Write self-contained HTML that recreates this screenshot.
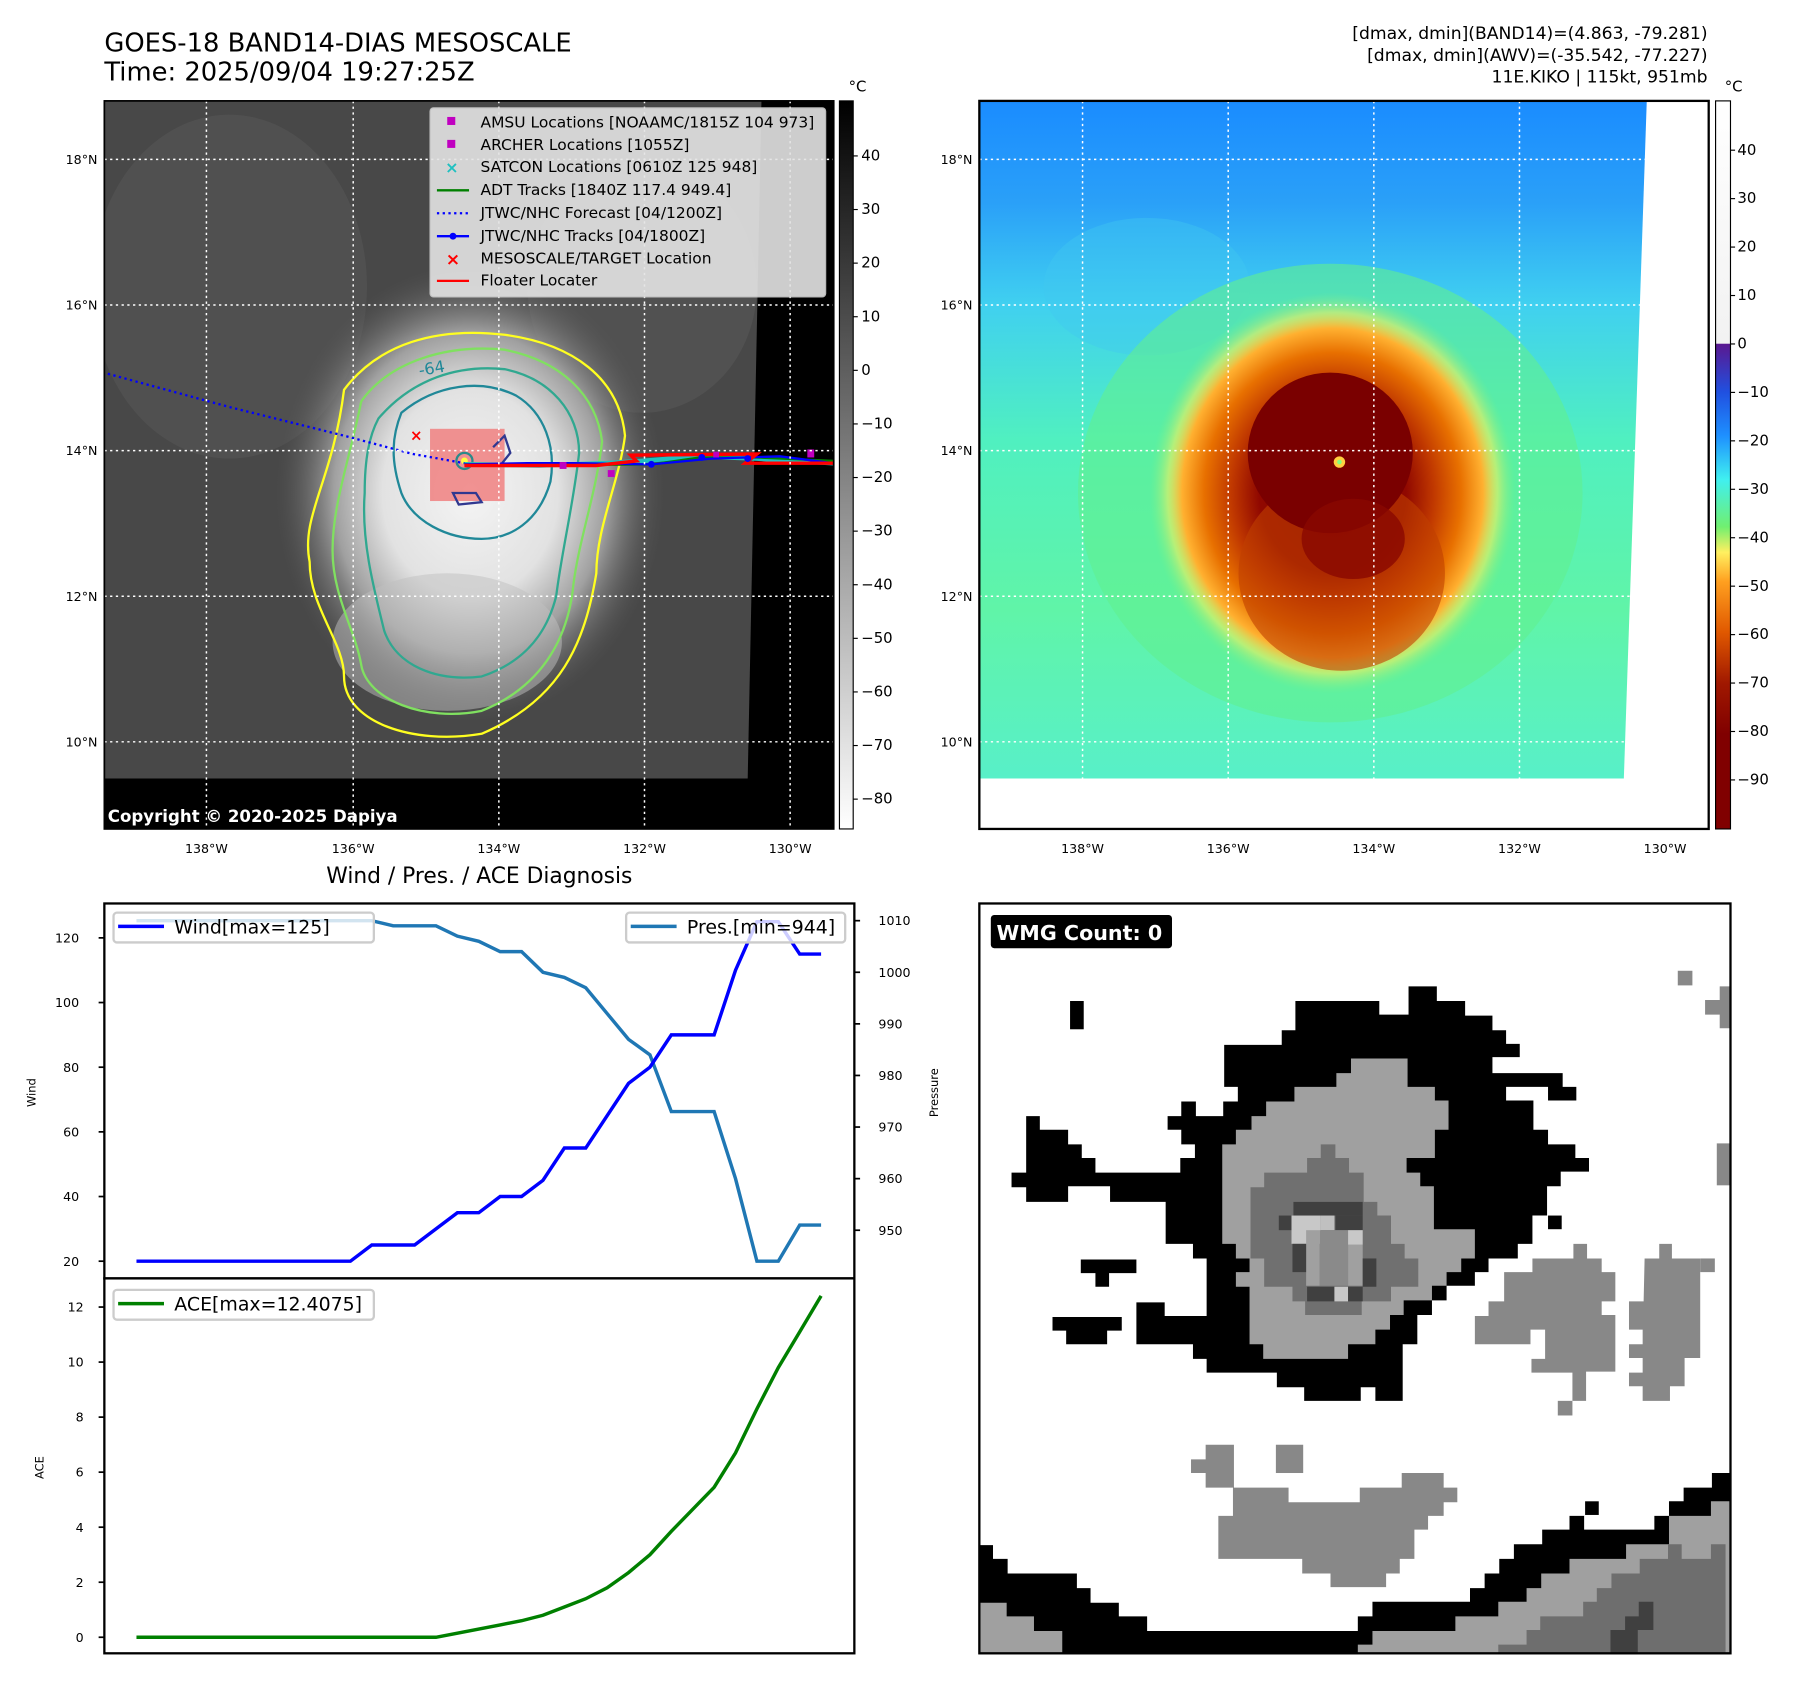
<!DOCTYPE html>
<html><head><meta charset="utf-8"><style>
html,body{margin:0;padding:0;background:#fff;}
svg{display:block;}
text{font-family:"DejaVu Sans","Liberation Sans",sans-serif;}
</style></head><body>
<svg id="fig" width="1797" height="1690" viewBox="0 0 1567 1474" preserveAspectRatio="none" xmlns="http://www.w3.org/2000/svg">
<defs>
<radialGradient id="stormL" cx="0.5" cy="0.5" r="0.5">
<stop offset="0" stop-color="#f4f4f4"/><stop offset="0.45" stop-color="#e2e2e2"/><stop offset="0.7" stop-color="#a0a0a0"/><stop offset="1" stop-color="#555" stop-opacity="0"/>
</radialGradient>
<linearGradient id="bgR" x1="0" y1="0" x2="0" y2="1">
<stop offset="0" stop-color="#1a8cff"/><stop offset="0.15" stop-color="#2aa0f8"/><stop offset="0.3" stop-color="#40d0f0"/><stop offset="0.5" stop-color="#50f0c0"/><stop offset="0.75" stop-color="#60f4a8"/><stop offset="1" stop-color="#58f0c8"/>
</linearGradient>
<radialGradient id="stormR" cx="0.5" cy="0.5" r="0.5">
<stop offset="0" stop-color="#800000"/><stop offset="0.4" stop-color="#900800"/><stop offset="0.55" stop-color="#c03800"/><stop offset="0.7" stop-color="#e87000"/><stop offset="0.82" stop-color="#ffb030"/><stop offset="0.9" stop-color="#f0f060" stop-opacity="0.6"/><stop offset="1" stop-color="#80f080" stop-opacity="0"/>
</radialGradient>
<linearGradient id="cbL" x1="0" y1="0" x2="0" y2="1"><stop offset="0" stop-color="#000"/><stop offset="1" stop-color="#fff"/></linearGradient>
<linearGradient id="cbR" x1="0" y1="0" x2="0" y2="1">
<stop offset="0" stop-color="#ffffff"/><stop offset="0.333" stop-color="#f2f2f2"/><stop offset="0.334" stop-color="#5a1890"/>
<stop offset="0.4" stop-color="#2050e0"/><stop offset="0.46" stop-color="#1e90ff"/><stop offset="0.52" stop-color="#40f0f0"/><stop offset="0.585" stop-color="#70f070"/><stop offset="0.62" stop-color="#fff060"/><stop offset="0.66" stop-color="#ffa020"/><stop offset="0.73" stop-color="#e05800"/><stop offset="0.8" stop-color="#a01800"/><stop offset="0.87" stop-color="#800000"/><stop offset="1" stop-color="#800000"/>
</linearGradient>
<clipPath id="clipL"><rect x="91" y="88" width="636" height="635"/></clipPath>
<clipPath id="clipR"><rect x="854" y="88" width="636" height="635"/></clipPath>
</defs>

<text x="91" y="45" font-size="22.5">GOES-18 BAND14-DIAS MESOSCALE</text>
<text x="91" y="70" font-size="22.5">Time: 2025/09/04 19:27:25Z</text>
<g font-size="15" text-anchor="end">
<text x="1489" y="34">[dmax, dmin](BAND14)=(4.863, -79.281)</text>
<text x="1489" y="53">[dmax, dmin](AWV)=(-35.542, -77.227)</text>
<text x="1489" y="72">11E.KIKO | 115kt, 951mb</text>
</g>

<g clip-path="url(#clipL)">
<rect x="91" y="88" width="636" height="635" fill="#000"/>
<polygon points="91,88 664,88 652,679 91,679" fill="#484848"/>
<ellipse cx="200" cy="250" rx="120" ry="150" fill="#565656" opacity="0.6"/>
<ellipse cx="560" cy="250" rx="100" ry="110" fill="#585858" opacity="0.6"/>
<ellipse cx="410" cy="430" rx="170" ry="200" fill="url(#stormL)"/>
<ellipse cx="390" cy="560" rx="100" ry="60" fill="#c0c0c0" opacity="0.5"/>
<path d="M300,340 C330,300 380,285 440,292 C500,300 540,330 545,380 C540,420 520,460 520,500 C510,560 490,610 420,640 C360,650 300,630 300,590 C300,560 270,530 270,490 C262,450 290,420 300,340Z" fill="none" stroke="#ffff20" stroke-width="2"/>
<path d="M315,350 C340,315 390,300 440,305 C490,315 520,345 525,385 C520,430 505,470 500,510 C495,560 470,600 420,620 C370,630 320,610 315,580 C310,550 290,520 290,480 C290,440 305,400 315,350Z" fill="none" stroke="#80e060" stroke-width="2"/>
<path d="M330,365 C360,330 400,318 440,322 C480,330 505,360 505,395 C500,440 490,480 485,520 C475,560 450,580 420,590 C380,595 345,580 335,550 C325,510 315,470 318,430 C318,400 322,380 330,365Z" fill="none" stroke="#30a890" stroke-width="2"/>
<path d="M350,360 C380,335 420,330 450,345 C475,360 485,390 480,420 C470,455 445,470 420,470 C390,470 360,455 350,430 C340,400 342,380 350,360Z" fill="none" stroke="#208898" stroke-width="2"/>
<text x="366" y="328" font-size="14" fill="#208898" transform="rotate(-10 366 328)">-64</text>
<rect x="375" y="374" width="65" height="63" fill="#f08080" opacity="0.85"/>
<path d="M430,390 l10,-10 l5,15 l-8,10 M395,430 l20,0 l5,8 l-20,2z" fill="none" stroke="#303890" stroke-width="2"/>
<circle cx="405" cy="402" r="7" fill="none" stroke="#2a8a8a" stroke-width="2"/>
<circle cx="405" cy="402" r="3" fill="#ffff40"/>
<polyline points="94,326 200,355 300,380 360,396 405,404" fill="none" stroke="#0000ff" stroke-width="2" stroke-dasharray="2,3"/>
<polyline points="405,405 470,406 530,404 560,402 610,398 660,400 727,404" fill="none" stroke="#20c0c0" stroke-width="4"/>
<polyline points="405,405 470,406 568,405 610,399 660,399 727,402" fill="none" stroke="#008000" stroke-width="2"/>
<polyline points="405,405 460,404 500,404 568,405 620,400 680,398 727,404" fill="none" stroke="#0000ff" stroke-width="2"/>
<polyline points="405,406 520,406 555,402 550,397 660,396 650,404 727,404" fill="none" stroke="#ff0000" stroke-width="3"/>
<rect x="488" y="403" width="6" height="6" fill="#c000c0"/><rect x="530" y="410" width="6" height="6" fill="#c000c0"/><rect x="704" y="392" width="6" height="7" fill="#c000c0"/><rect x="622" y="394" width="5" height="5" fill="#c000c0"/>
<circle cx="568" cy="405" r="3" fill="#0000ff"/><circle cx="612" cy="399" r="3" fill="#0000ff"/><circle cx="652" cy="400" r="3" fill="#0000ff"/>
<text x="363" y="384" font-size="13" fill="#ff0000" text-anchor="middle" font-weight="bold">×</text>
<rect x="91" y="679" width="636" height="44" fill="#000"/>
<g stroke="#fff" stroke-width="1.3" stroke-dasharray="2,3">
<line x1="91" y1="139" x2="727" y2="139"/><line x1="91" y1="266" x2="727" y2="266"/><line x1="91" y1="393" x2="727" y2="393"/><line x1="91" y1="520" x2="727" y2="520"/><line x1="91" y1="647" x2="727" y2="647"/>
<line x1="180" y1="88" x2="180" y2="723"/><line x1="308" y1="88" x2="308" y2="723"/><line x1="435" y1="88" x2="435" y2="723"/><line x1="562" y1="88" x2="562" y2="723"/><line x1="689" y1="88" x2="689" y2="723"/>
</g>
<text x="94" y="717" font-size="14.5" font-weight="bold" fill="#fff">Copyright © 2020-2025 Dapiya</text>
</g>
<rect x="91" y="88" width="636" height="635" fill="none" stroke="#000" stroke-width="1.5"/>

<g>
<rect x="375" y="94" width="345" height="165" rx="3" fill="#e4e4e4" opacity="0.9" stroke="#ccc"/>
<g font-size="13.5" fill="#000">
<rect x="390" y="102" width="7" height="7" fill="#c000c0"/><text x="419" y="111">AMSU Locations [NOAAMC/1815Z 104 973]</text>
<rect x="390" y="122" width="7" height="7" fill="#c000c0"/><text x="419" y="131">ARCHER Locations [1055Z]</text>
<text x="394" y="151" fill="#20c0c0" font-size="14" font-weight="bold" text-anchor="middle">×</text><text x="419" y="150">SATCON Locations [0610Z 125 948]</text>
<line x1="381" y1="166" x2="409" y2="166" stroke="#008000" stroke-width="2"/><text x="419" y="170">ADT Tracks [1840Z 117.4 949.4]</text>
<line x1="381" y1="186" x2="409" y2="186" stroke="#0000ff" stroke-width="2" stroke-dasharray="2,3"/><text x="419" y="190">JTWC/NHC Forecast [04/1200Z]</text>
<line x1="381" y1="206" x2="409" y2="206" stroke="#0000ff" stroke-width="2"/><circle cx="395" cy="206" r="3" fill="#0000ff"/><text x="419" y="210">JTWC/NHC Tracks [04/1800Z]</text>
<text x="395" y="231" fill="#ff0000" font-size="15" font-weight="bold" text-anchor="middle">×</text><text x="419" y="230">MESOSCALE/TARGET Location</text>
<line x1="381" y1="245" x2="409" y2="245" stroke="#ff0000" stroke-width="2"/><text x="419" y="249">Floater Locater</text>
</g></g>

<g font-size="11" fill="#000" text-anchor="end">
<text x="85" y="143">18°N</text><text x="85" y="270">16°N</text><text x="85" y="397">14°N</text><text x="85" y="524">12°N</text><text x="85" y="651">10°N</text>
</g>
<g font-size="11" fill="#000" text-anchor="middle">
<text x="180" y="744">138°W</text><text x="308" y="744">136°W</text><text x="435" y="744">134°W</text><text x="562" y="744">132°W</text><text x="689" y="744">130°W</text>
</g>
<g>
<rect x="732" y="88" width="12" height="635" fill="url(#cbL)" stroke="#000" stroke-width="1"/>
<text x="740" y="80" font-size="13">°C</text>
<g font-size="13" id="cbLticks"></g>
</g>

<g clip-path="url(#clipR)">
<rect x="854" y="88" width="636" height="635" fill="#fff"/>
<polygon points="854,88 1436,88 1416,679 854,679" fill="url(#bgR)"/>
<ellipse cx="1000" cy="250" rx="90" ry="60" fill="#40c8f0" opacity="0.4"/>
<ellipse cx="1160" cy="430" rx="220" ry="200" fill="#60f090" opacity="0.6"/>
<ellipse cx="1162" cy="430" rx="160" ry="175" fill="url(#stormR)"/>
<ellipse cx="1170" cy="500" rx="90" ry="85" fill="#c04000" opacity="0.6"/>
<ellipse cx="1160" cy="395" rx="72" ry="70" fill="#7a0000"/>
<ellipse cx="1180" cy="470" rx="45" ry="35" fill="#8a0800" opacity="0.8"/>
<circle cx="1168" cy="403" r="5" fill="#ffd040"/><circle cx="1168" cy="403" r="2" fill="#80ff80"/>
<g stroke="#fff" stroke-width="1.3" stroke-dasharray="2,3">
<line x1="854" y1="139" x2="1490" y2="139"/><line x1="854" y1="266" x2="1490" y2="266"/><line x1="854" y1="393" x2="1490" y2="393"/><line x1="854" y1="520" x2="1490" y2="520"/><line x1="854" y1="647" x2="1490" y2="647"/>
<line x1="944" y1="88" x2="944" y2="723"/><line x1="1071" y1="88" x2="1071" y2="723"/><line x1="1198" y1="88" x2="1198" y2="723"/><line x1="1325" y1="88" x2="1325" y2="723"/><line x1="1452" y1="88" x2="1452" y2="723"/>
</g>
</g>
<rect x="854" y="88" width="636" height="635" fill="none" stroke="#000" stroke-width="2"/>
<g font-size="11" fill="#000" text-anchor="end">
<text x="848" y="143">18°N</text><text x="848" y="270">16°N</text><text x="848" y="397">14°N</text><text x="848" y="524">12°N</text><text x="848" y="651">10°N</text>
</g>
<g font-size="11" fill="#000" text-anchor="middle">
<text x="944" y="744">138°W</text><text x="1071" y="744">136°W</text><text x="1198" y="744">134°W</text><text x="1325" y="744">132°W</text><text x="1452" y="744">130°W</text>
</g>
<g>
<rect x="1496" y="88" width="13" height="635" fill="url(#cbR)" stroke="#000" stroke-width="1"/>
<text x="1504" y="80" font-size="13">°C</text>
<g font-size="13" id="cbRticks"></g>
</g>

<text x="418" y="770" font-size="19" text-anchor="middle">Wind / Pres. / ACE Diagnosis</text>
<g id="diag"></g>

<g>
<rect x="854" y="788" width="655" height="654" fill="#fff"/>
<g transform="translate(854,788) scale(0.4253)">
<polygon fill="#000" points="502,290 620,290 620,260 648,260 648,200 820,200 820,228 880,228 880,170 938,170 938,200 996,200 996,230 1052,230 1052,260 1080,260 1080,288 1108,288 1108,315 1052,315 1052,348 1196,348 1196,376 1224,376 1224,404 1166,404 1166,376 1080,376 1080,404 1136,404 1136,464 1166,464 1166,494 1222,494 1222,522 1250,522 1250,550 1192,550 1192,580 1164,580 1164,640 1134,640 1134,698 1104,698 1104,728 1044,728 1044,756 1016,756 1016,784 958,784 958,814 928,814 928,844 898,844 898,904 868,904 868,1020 812,1020 812,992 782,992 782,1020 666,1020 666,992 610,992 610,962 466,962 466,934 438,934 438,904 322,904 322,818 380,818 380,846 466,846 466,728 438,728 438,698 382,698 382,612 268,612 268,580 182,580 182,612 96,612 96,582 66,582 66,552 96,552 96,436 124,436 124,464 182,464 182,494 210,494 210,522 238,522 238,552 412,552 412,522 442,522 442,494 414,494 414,464 386,464 386,436 414,436 414,406 444,406 444,436 500,436 500,406 530,406 530,376 502,376"/>
<rect x="186" y="200" width="28" height="58" fill="#000"/>
<polygon fill="#000" points="208,730 322,730 322,758 266,758 266,786 238,786 238,758 208,758"/>
<polygon fill="#000" points="150,848 292,848 292,876 262,876 262,904 178,904 178,876 150,876"/>
<rect x="1166" y="640" width="28" height="28" fill="#000"/>
<polygon fill="#a0a0a0" points="762,318 878,318 878,376 934,376 934,404 962,404 962,464 934,464 934,522 876,522 876,552 904,552 904,580 932,580 932,668 1016,668 1016,728 988,728 988,756 958,756 958,784 928,784 928,814 870,814 870,844 842,844 842,874 812,874 812,904 756,904 756,934 582,934 582,904 554,904 554,786 526,786 526,756 554,756 554,728 526,728 526,698 498,698 498,494 526,494 526,464 558,464 558,436 588,436 588,406 646,406 646,376 732,376 732,348 762,348"/>
<polygon fill="#707070" points="700,494 730,494 730,522 758,522 758,552 788,552 788,612 816,612 816,640 844,640 844,698 872,698 872,728 900,728 900,786 844,786 844,816 784,816 784,844 668,844 668,816 642,816 642,786 584,786 584,728 556,728 556,582 584,582 584,552 672,552 672,522 700,522"/>
<rect x="644" y="612" width="142" height="28" fill="#404040"/><rect x="614" y="640" width="26" height="30" fill="#404040"/><rect x="730" y="640" width="56" height="30" fill="#404040"/>
<rect x="640" y="640" width="60" height="58" fill="#c8c8c8"/><rect x="700" y="640" width="28" height="30" fill="#c0c0c0"/>
<rect x="670" y="670" width="28" height="114" fill="#a0a0a0"/><rect x="698" y="670" width="58" height="114" fill="#8a8a8a"/>
<rect x="756" y="670" width="30" height="30" fill="#c8c8c8"/><rect x="756" y="700" width="30" height="84" fill="#a0a0a0"/>
<rect x="642" y="698" width="28" height="58" fill="#404040"/><rect x="786" y="728" width="28" height="58" fill="#404040"/>
<rect x="672" y="786" width="56" height="30" fill="#404040"/><rect x="728" y="786" width="28" height="30" fill="#c8c8c8"/><rect x="756" y="786" width="30" height="30" fill="#404040"/>
<polygon fill="#888" points="1076,756 1134,756 1134,728 1218,728 1218,698 1246,698 1246,728 1276,728 1276,756 1304,756 1304,816 1276,816 1276,844 1304,844 1304,960 1244,960 1244,1020 1216,1020 1216,962 1132,962 1132,934 1160,934 1160,874 1130,874 1130,904 1016,904 1016,846 1044,846 1044,816 1076,816"/>
<polygon fill="#888" points="1364,728 1394,728 1394,698 1420,698 1420,728 1478,728 1478,932 1446,932 1446,990 1416,990 1416,1020 1360,1020 1360,990 1332,990 1332,962 1360,962 1360,932 1332,932 1332,904 1360,904 1360,874 1332,874 1332,816 1362,816"/>
<rect x="1186" y="1020" width="30" height="30" fill="#888"/><rect x="1432" y="138" width="30" height="30" fill="#888"/><rect x="1478" y="728" width="30" height="28" fill="#888"/>
<polygon fill="#888" points="1518,170 1540,170 1540,256 1518,256 1518,228 1488,228 1488,198 1518,198"/><rect x="1512" y="492" width="28" height="86" fill="#888"/>
<polygon fill="#888" points="464,1110 522,1110 522,1198 634,1198 634,1228 780,1228 780,1198 866,1198 866,1168 952,1168 952,1198 980,1198 980,1228 952,1228 952,1256 920,1256 920,1284 892,1284 892,1344 862,1344 862,1374 834,1374 834,1402 720,1402 720,1374 662,1374 662,1344 490,1344 490,1256 520,1256 520,1198 464,1198 464,1168 434,1168 434,1140 464,1140"/>
<rect x="608" y="1110" width="56" height="58" fill="#888"/>
<polygon fill="#000" points="0,1316 28,1316 28,1344 58,1344 58,1374 200,1374 200,1404 228,1404 228,1434 286,1434 286,1462 344,1462 344,1492 776,1492 776,1462 806,1462 806,1432 1006,1432 1006,1404 1036,1404 1036,1374 1066,1374 1066,1344 1096,1344 1096,1314 1154,1314 1154,1284 1210,1284 1210,1256 1240,1256 1240,1284 1384,1284 1384,1256 1414,1256 1414,1226 1444,1226 1444,1198 1502,1198 1502,1168 1540,1168 1540,1540 0,1540"/>
<rect x="1242" y="1226" width="28" height="28" fill="#000"/>
<polygon fill="#a0a0a0" points="0,1434 56,1434 56,1462 112,1462 112,1492 170,1492 170,1540 0,1540"/>
<polygon fill="#a0a0a0" points="806,1492 976,1492 976,1462 1064,1462 1064,1432 1122,1432 1122,1404 1152,1404 1152,1374 1210,1374 1210,1344 1326,1344 1326,1314 1414,1314 1414,1256 1500,1256 1500,1226 1540,1226 1540,1540 776,1540 776,1520 806,1520"/>
<polygon fill="#6e6e6e" points="1064,1540 1064,1520 1122,1520 1122,1490 1150,1490 1150,1462 1238,1462 1238,1432 1266,1432 1266,1404 1296,1404 1296,1374 1354,1374 1354,1344 1412,1344 1412,1314 1440,1314 1440,1344 1500,1344 1500,1314 1530,1314 1530,1540"/>
<polygon fill="#404040" points="1294,1540 1294,1490 1324,1490 1324,1462 1352,1462 1352,1432 1382,1432 1382,1490 1350,1490 1350,1540"/>
</g>
<rect x="854" y="788" width="655" height="654" fill="none" stroke="#000" stroke-width="2"/>
<rect x="864" y="798" width="158" height="29" rx="3" fill="#000"/>
<text x="869" y="820" font-size="18" font-weight="bold" fill="#fff">WMG Count: 0</text>
</g>

<script>
const windValues = [20,20,20,20,20,20,20,20,20,20,20,25,25,25,30,35,35,40,40,45,55,55,65,75,80,90,90,90,110,125,125,115,115];
const presValues = [1010,1010,1010,1010,1010,1010,1010,1010,1010,1010,1010,1010,1009,1009,1009,1007,1006,1004,1004,1000,999,997,992,987,984,973,973,973,960,944,944,951,951];
const aceValues = [0,0,0,0,0,0,0,0,0,0,0,0,0,0,0,0.15,0.3,0.45,0.6,0.8,1.1,1.4,1.8,2.35,3.0,3.85,4.65,5.45,6.7,8.3,9.8,11.1,12.4075];
const windTicks = [20,40,60,80,100,120];
const presTicks = [950,960,970,980,990,1000,1010];
const aceTicks = [0,2,4,6,8,10,12];
const irTicks = [40,30,20,10,0,-10,-20,-30,-40,-50,-60,-70,-80];
const awvTicks = [40,30,20,10,0,-10,-20,-30,-40,-50,-60,-70,-80,-90];

const NS='http://www.w3.org/2000/svg';
function mk(tag,attrs,parent){const e=document.createElementNS(NS,tag);for(const k in attrs)e.setAttribute(k,attrs[k]);parent.appendChild(e);return e;}
const X0=119,X1=716;
const xS=i=>X0+(X1-X0)*i/(windValues.length-1);
const yW=v=>1100+(v-20)*(818-1100)/100;
const yP=v=>1073+(v-950)*(803-1073)/60;
const yA=v=>1428+v*(1140-1428)/12;

const cbl=document.getElementById('cbLticks');
irTicks.forEach(v=>{const y=323+(v)*(136-323)/40;
 mk('line',{x1:744,y1:y,x2:748,y2:y,stroke:'#000'},cbl);
 const t=mk('text',{x:751,y:y+4},cbl);t.textContent=(v<0?'\u2212'+(-v):v);
 
 });
const cbr=document.getElementById('cbRticks');
awvTicks.forEach(v=>{const y=300+(v)*(131-300)/40;
 mk('line',{x1:1509,y1:y,x2:1513,y2:y,stroke:'#000'},cbr);
 const t=mk('text',{x:1515,y:y+4},cbr);t.textContent=(v<0?'\u2212'+(-v):v);
 
 });

const g=document.getElementById('diag');
mk('rect',{x:91,y:788,width:654,height:327,fill:'#fff',stroke:'#000','stroke-width':2},g);
mk('rect',{x:91,y:1115,width:654,height:327,fill:'#fff',stroke:'#000','stroke-width':2},g);
windTicks.forEach(v=>{const y=yW(v);mk('line',{x1:86,y1:y,x2:91,y2:y,stroke:'#000','stroke-width':1.5},g);
 const t=mk('text',{x:69,y:y+4,'font-size':11,'text-anchor':'end'},g);t.textContent=v;
 
 });
presTicks.forEach(v=>{const y=yP(v);mk('line',{x1:745,y1:y,x2:750,y2:y,stroke:'#000','stroke-width':1.5},g);
 const t=mk('text',{x:766,y:y+4,'font-size':11},g);t.textContent=v;
 
 });
aceTicks.forEach(v=>{const y=yA(v);mk('line',{x1:86,y1:y,x2:91,y2:y,stroke:'#000','stroke-width':1.5},g);
 const t=mk('text',{x:73,y:y+4,'font-size':11,'text-anchor':'end'},g);t.textContent=v;
 
 });
let t=mk('text',{x:31,y:953,'font-size':10,'text-anchor':'middle',transform:'rotate(-90 31 953)'},g);t.textContent='Wind';


t=mk('text',{x:818,y:953,'font-size':10,'text-anchor':'middle',transform:'rotate(-90 818 953)'},g);t.textContent='Pressure';


t=mk('text',{x:38,y:1280,'font-size':10,'text-anchor':'middle',transform:'rotate(-90 38 1280)'},g);t.textContent='ACE';



let p=mk('polyline',{points:presValues.map((v,i)=>xS(i)+','+yP(v)).join(' '),fill:'none',stroke:'#1f77b4','stroke-width':3},g);


p=mk('polyline',{points:windValues.map((v,i)=>xS(i)+','+yW(v)).join(' '),fill:'none',stroke:'#0000ff','stroke-width':3},g);


p=mk('polyline',{points:aceValues.map((v,i)=>xS(i)+','+yA(v)).join(' '),fill:'none',stroke:'#008000','stroke-width':3},g);



function legend(x,y,w,color,label,name){
 const lg=mk('g',{},g);
 
 
 mk('rect',{x:x,y:y,width:w,height:26,rx:3,fill:'#fff','fill-opacity':0.8,stroke:'#ccc','stroke-width':2},lg);
 mk('line',{x1:x+4,y1:y+12,x2:x+44,y2:y+12,stroke:color,'stroke-width':3},lg);
 const tx=mk('text',{x:x+53,y:y+18,'font-size':16.5},lg);tx.textContent=label;
}
legend(99,796,227,'#0000ff','Wind[max=125]','wind-legend');
legend(546,796,191,'#1f77b4','Pres.[min=944]','pressure-legend');
legend(99,1125,227,'#008000','ACE[max=12.4075]','ace-legend');
</script>
</svg>
</body></html>
